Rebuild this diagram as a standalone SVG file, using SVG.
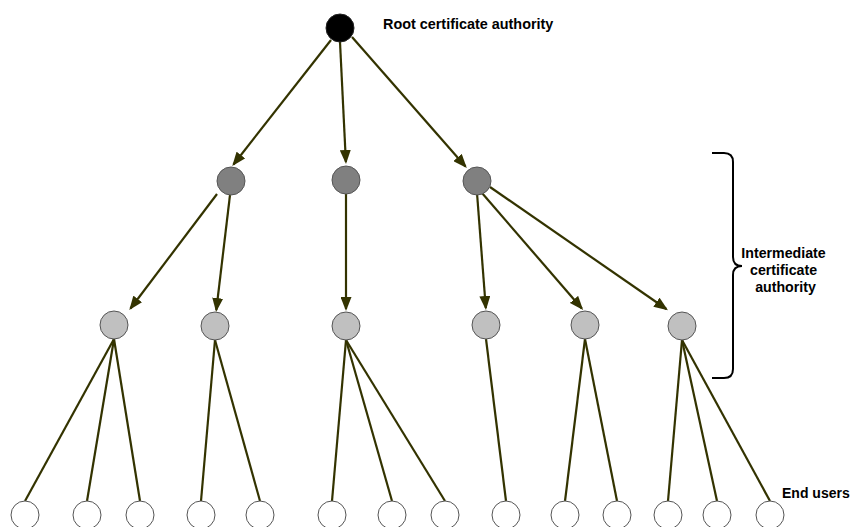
<svg xmlns="http://www.w3.org/2000/svg" width="850" height="527" viewBox="0 0 850 527">
  <defs>
    <marker id="arrow" markerUnits="userSpaceOnUse" markerWidth="15" markerHeight="11" refX="12" refY="5.5" orient="auto">
      <path d="M0,0 L14,5.5 L0,11 z" fill="#333300"/>
    </marker>
    <style>
      .edge { stroke: #333300; stroke-width: 2.2; fill: none; }
      .arr { marker-end: url(#arrow); }
      .node { stroke: #555555; stroke-width: 1; }
      .root { fill: #000000; stroke: #222222; }
      .ca1 { fill: #808080; }
      .ca2 { fill: #c0c0c0; }
      .user { fill: #ffffff; }
      .label { font-family: "Liberation Sans", Arial, sans-serif; font-weight: bold; fill: #000000; }
      .brace { stroke: #000000; stroke-width: 2; fill: none; }
    </style>
  </defs>
  <rect width="850" height="527" fill="#ffffff"/>

  <!-- connectors -->
  <g id="connectors">
    <!-- root to first-level CAs -->
    <line class="edge arr" x1="331" y1="40" x2="233.5" y2="164.5"/>
    <line class="edge arr" x1="340" y1="42" x2="345.9" y2="162"/>
    <line class="edge arr" x1="352" y1="37" x2="465.5" y2="166.5"/>
    <!-- first-level to second-level CAs -->
    <line class="edge arr" x1="217" y1="194" x2="130.5" y2="308.5"/>
    <line class="edge arr" x1="230" y1="195" x2="216.3" y2="310"/>
    <line class="edge arr" x1="346" y1="194" x2="346" y2="309"/>
    <line class="edge arr" x1="477" y1="193" x2="485.8" y2="308"/>
    <line class="edge arr" x1="482" y1="193" x2="581.8" y2="308.5"/>
    <line class="edge arr" x1="490" y1="187" x2="666.3" y2="309"/>
    <!-- second-level CAs to end users -->
    <line class="edge" x1="114" y1="339" x2="25" y2="501"/>
    <line class="edge" x1="114" y1="339" x2="87" y2="501"/>
    <line class="edge" x1="114" y1="339" x2="140" y2="501"/>
    <line class="edge" x1="215" y1="340" x2="201" y2="501"/>
    <line class="edge" x1="215" y1="340" x2="260" y2="501"/>
    <line class="edge" x1="346" y1="340" x2="332" y2="501"/>
    <line class="edge" x1="346" y1="340" x2="392" y2="501"/>
    <line class="edge" x1="346" y1="340" x2="445" y2="501"/>
    <line class="edge" x1="486" y1="339" x2="506" y2="501"/>
    <line class="edge" x1="585" y1="339" x2="565" y2="501"/>
    <line class="edge" x1="585" y1="339" x2="617" y2="501"/>
    <line class="edge" x1="682" y1="340" x2="668" y2="501"/>
    <line class="edge" x1="682" y1="340" x2="717" y2="501"/>
    <line class="edge" x1="682" y1="340" x2="770" y2="501"/>
  </g>

  <!-- root certificate authority -->
  <g id="root">
    <circle class="node root" cx="340" cy="28" r="14"/>
  </g>

  <!-- first-level intermediate CAs -->
  <g id="ca-1a"><circle class="node ca1" cx="231" cy="181" r="14"/></g>
  <g id="ca-1b"><circle class="node ca1" cx="346" cy="180" r="14"/></g>
  <g id="ca-1c"><circle class="node ca1" cx="477" cy="181" r="14"/></g>

  <!-- second-level intermediate CAs -->
  <g id="ca-2a"><circle class="node ca2" cx="114" cy="325" r="14"/></g>
  <g id="ca-2b"><circle class="node ca2" cx="215" cy="326" r="14"/></g>
  <g id="ca-2c"><circle class="node ca2" cx="346" cy="326" r="14"/></g>
  <g id="ca-2d"><circle class="node ca2" cx="486" cy="325" r="14"/></g>
  <g id="ca-2e"><circle class="node ca2" cx="585" cy="325" r="14"/></g>
  <g id="ca-2f"><circle class="node ca2" cx="682" cy="326" r="14"/></g>

  <!-- end users -->
  <g id="user-1"><circle class="node user" cx="25" cy="515" r="14"/></g>
  <g id="user-2"><circle class="node user" cx="87" cy="515" r="14"/></g>
  <g id="user-3"><circle class="node user" cx="140" cy="515" r="14"/></g>
  <g id="user-4"><circle class="node user" cx="201" cy="515" r="14"/></g>
  <g id="user-5"><circle class="node user" cx="260" cy="515" r="14"/></g>
  <g id="user-6"><circle class="node user" cx="332" cy="515" r="14"/></g>
  <g id="user-7"><circle class="node user" cx="392" cy="515" r="14"/></g>
  <g id="user-8"><circle class="node user" cx="445" cy="515" r="14"/></g>
  <g id="user-9"><circle class="node user" cx="506" cy="515" r="14"/></g>
  <g id="user-10"><circle class="node user" cx="565" cy="515" r="14"/></g>
  <g id="user-11"><circle class="node user" cx="617" cy="515" r="14"/></g>
  <g id="user-12"><circle class="node user" cx="668" cy="515" r="14"/></g>
  <g id="user-13"><circle class="node user" cx="717" cy="515" r="14"/></g>
  <g id="user-14"><circle class="node user" cx="770" cy="515" r="14"/></g>

  <!-- labels -->
  <g id="label-root">
    <text class="label" x="383" y="29" font-size="14.4">Root certificate authority</text>
  </g>
  <g id="label-intermediate">
    <path class="brace" d="M712,153 L724,153 Q733,153 733,162 L733,257 Q733,266 742,266 Q733,266 733,275 L733,369 Q733,378 724,378 L712,378"/>
    <text class="label" font-size="14.2" text-anchor="middle">
      <tspan x="785.5" y="258">Intermediate</tspan>
      <tspan x="785.5" y="275">certificate</tspan>
      <tspan x="785.5" y="292">authority</tspan>
    </text>
  </g>
  <g id="label-users">
    <text class="label" x="782" y="498" font-size="14">End users</text>
  </g>
</svg>
